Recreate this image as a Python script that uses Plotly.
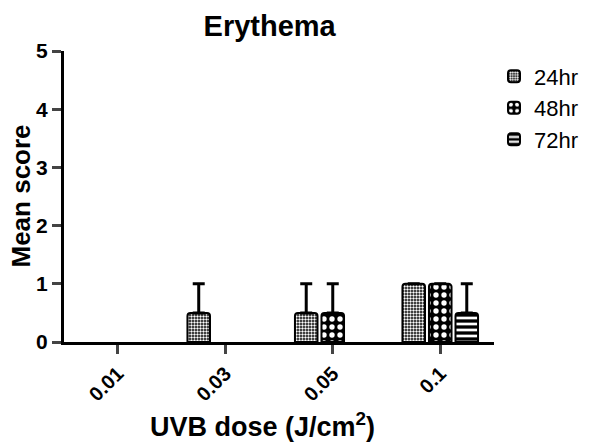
import plotly.graph_objects as go

DOSES = ["0.01", "0.03", "0.05", "0.1"]
MEAN_24 = [0, 0.5, 0.5, 1.0]
MEAN_48 = [0, 0, 0.5, 1.0]
MEAN_72 = [0, 0, 0, 0.5]
ERR_24 = [0, 0.5, 0.5, 0]
ERR_48 = [0, 0, 0.5, 0]
ERR_72 = [0, 0, 0, 0.5]

FONT = "Liberation Sans, Arial, sans-serif"
PATTERNS = {
    "24hr": dict(shape=".", size=3, solidity=0.5),
    "48hr": dict(shape=".", size=8, solidity=0.35),
    "72hr": dict(shape="-", size=6, solidity=0.45),
}

W, H = 588, 440

fig = go.Figure()
for name, mean, err in (("24hr", MEAN_24, ERR_24), ("48hr", MEAN_48, ERR_48),
                        ("72hr", MEAN_72, ERR_72)):
    # zero bars are left out, otherwise plotly draws an outline stub and an error cap on the axis
    shown = [v if v else None for v in mean]
    fig.add_trace(go.Bar(
        x=DOSES, y=shown, name=name,
        marker=dict(color="black", cornerradius=3,
                    line=dict(color="black", width=2),
                    pattern=dict(fgcolor="white", bgcolor="black", fillmode="replace",
                                 **PATTERNS[name])),
        error_y=dict(type="data", array=err, arrayminus=[0] * len(err), symmetric=False,
                     color="black", thickness=3, width=6),
    ))

# axis titles as annotations so they can sit where the original has them
titles = [
    dict(text="<b>UVB dose (J/cm<sup>2</sup>)</b>", x=0.461, y=0, yshift=-83,
         font=dict(size=27)),
    dict(text="<b>Mean score</b>", x=0, y=0.5, xshift=-44, textangle=-90,
         font=dict(size=26)),
]
fig.update_layout(
    width=W, height=H, template="simple_white",
    barmode="group", bargap=0.26, bargroupgap=0.15,
    font=dict(family=FONT, color="black"),
    title=dict(text="<b>Erythema</b>", x=0.445, xanchor="center", y=0.982, yanchor="top",
               font=dict(size=29)),
    margin=dict(l=56, r=96, t=43, b=106),
    legend=dict(x=1.0, xanchor="left", y=0.985, yanchor="top", font=dict(size=22),
                itemsizing="constant"),
    paper_bgcolor="white", plot_bgcolor="white",
    showlegend=True,
    annotations=[dict(xref="paper", yref="paper", xanchor="center", yanchor="middle",
                      showarrow=False, **t) for t in titles],
)
fig.update_xaxes(
    range=[-0.5, 3.5], showline=True, linewidth=3, linecolor="black",
    ticks="outside", ticklen=9, tickwidth=3, tickangle=-45,
    tickfont=dict(size=20, family=FONT), tickprefix="<b>", ticksuffix="</b>",
    automargin=False,
)
fig.update_yaxes(
    range=[0, 5], dtick=1, showline=True, linewidth=3, linecolor="black",
    ticks="outside", ticklen=9, tickwidth=3,
    tickfont=dict(size=21, family=FONT), tickprefix="<b>", ticksuffix="</b>",
    zeroline=False, automargin=False,
)

fig.write_html("out.html")
